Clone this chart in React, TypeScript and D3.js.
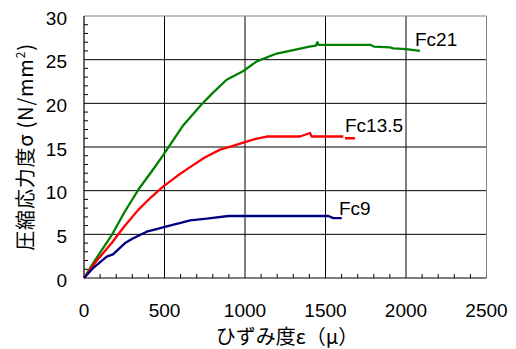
import React from "react";
import * as d3 from "d3";

const xTicks = [0, 500, 1000, 1500, 2000, 2500];
const yTicks = [0, 5, 10, 15, 20, 25, 30];

const fc21Strain = [0, 50, 100, 172, 250, 337, 420, 493, 520, 617, 731, 800, 886, 990, 1073, 1197, 1300, 1400, 1440, 1450, 1456, 1777, 1800, 1900, 1921, 2000, 2087];
const fc21Stress = [0, 1.5, 2.9, 4.9, 7.5, 10.1, 12.2, 14.1, 14.85, 17.5, 19.9, 21.2, 22.7, 23.7, 24.8, 25.7, 26.1, 26.5, 26.6, 27.0, 26.7, 26.7, 26.5, 26.4, 26.3, 26.2, 26.0];

const fc135Strain = [0, 80, 172, 250, 337, 420, 493, 580, 659, 750, 845, 920, 990, 1060, 1135, 1342, 1404, 1414, 1611, 1615, 1621, 1683];
const fc135Stress: (number | null)[] = [0, 2, 4.0, 5.9, 7.8, 9.3, 10.5, 11.7, 12.7, 13.8, 14.7, 15.1, 15.5, 15.9, 16.2, 16.2, 16.6, 16.2, 16.2, null, 16.0, 16.0];

const fc9Strain = [0, 60, 141, 180, 255, 300, 389, 450, 514, 600, 659, 762, 897, 1518, 1549, 1601];
const fc9Stress = [0, 1.2, 2.45, 2.7, 4.0, 4.5, 5.3, 5.6, 5.9, 6.3, 6.6, 6.8, 7.1, 7.1, 6.85, 6.85];

const seriesNames = ["Fc21", "Fc13.5", "Fc9"];
const seriesColors = ["#008000", "#ff0000", "#000080"];

const CJK = "'Noto Sans CJK JP', sans-serif";
const LAT = "'Liberation Sans', Arial, sans-serif";

export default function App() {
  const left = 84, right = 486.5, top = 16, bottom = 278;
  const x = d3.scaleLinear().domain([0, 2500]).range([left, right]);
  const y = d3.scaleLinear().domain([0, 30]).range([bottom, top]);

  const mk = (xs: number[], ys: (number | null)[]) =>
    xs.map((v, i) => ({ x: v, y: ys[i] }));
  const series = [
    mk(fc21Strain, fc21Stress),
    mk(fc135Strain, fc135Stress),
    mk(fc9Strain, fc9Stress),
  ];
  const line = d3
    .line<{ x: number; y: number | null }>()
    .defined((d) => d.y !== null)
    .x((d) => x(d.x))
    .y((d) => y(d.y as number));

  const minorX = d3.range(0, 2501, 100).filter((v) => v % 500 !== 0);
  const minorY = d3.range(0, 31, 1).filter((v) => v % 5 !== 0);

  const labelPos = [
    { sx: 2056, sy: 26.6 },
    { sx: 1621, sy: 16.7 },
    { sx: 1584, sy: 7.2 },
  ];

  return (
    <svg width={516} height={349} style={{ position: "absolute", left: 0, top: 0 }}>
      <rect x={0} y={0} width={516} height={349} fill="#fff" />
      {yTicks.filter((v) => v > 0 && v < 30).map((v) => (
        <line key={"gy" + v} x1={left} x2={right} y1={y(v)} y2={y(v)} stroke="#000" strokeWidth={1} />
      ))}
      {xTicks.filter((v) => v > 0 && v < 2500).map((v) => (
        <line key={"gx" + v} x1={x(v)} x2={x(v)} y1={top} y2={bottom} stroke="#000" strokeWidth={1} />
      ))}
      <line x1={left} x2={right} y1={top} y2={top} stroke="#808080" />
      <line x1={right} x2={right} y1={top} y2={bottom} stroke="#808080" />
      {minorY.map((v) => (
        <line key={"my" + v} x1={left} x2={left + 4} y1={y(v)} y2={y(v)} stroke="#000" />
      ))}
      {minorX.map((v) => (
        <line key={"mx" + v} x1={x(v)} x2={x(v)} y1={bottom} y2={bottom - 4} stroke="#000" />
      ))}
      <line x1={left} x2={left} y1={top} y2={bottom} stroke="#000" strokeWidth={1.2} />
      <line x1={left} x2={right} y1={bottom} y2={bottom} stroke="#000" strokeWidth={1.2} />
      {series.map((s, i) => (
        <path key={i} d={line(s) || ""} fill="none" stroke={seriesColors[i]} strokeWidth={2.3} strokeLinejoin="round" />
      ))}
      {seriesNames.map((n, i) => (
        <text key={n} x={x(labelPos[i].sx)} y={y(labelPos[i].sy)} fontSize={19} fontFamily={LAT} fill="#000">
          {n}
        </text>
      ))}
      {yTicks.map((v) => (
        <text key={"ty" + v} x={67} y={y(v) + 8.5} textAnchor="end" fontSize={19} fontFamily={LAT}>
          {v}
        </text>
      ))}
      {xTicks.map((v) => (
        <text key={"tx" + v} x={x(v)} y={317} textAnchor="middle" fontSize={19} fontFamily={LAT}>
          {v}
        </text>
      ))}
      <text x={287} y={344} textAnchor="middle" fontSize={20} fontFamily={CJK}>
        ひずみ度ε（μ）
      </text>
      <text transform="translate(33,147) rotate(-90)" textAnchor="middle" fontSize={20} fontFamily={CJK} letterSpacing={0.8}>
        圧縮応力度σ (N/mm<tspan dy="-8" fontSize={12}>2</tspan><tspan dy="8">)</tspan>
      </text>
    </svg>
  );
}
